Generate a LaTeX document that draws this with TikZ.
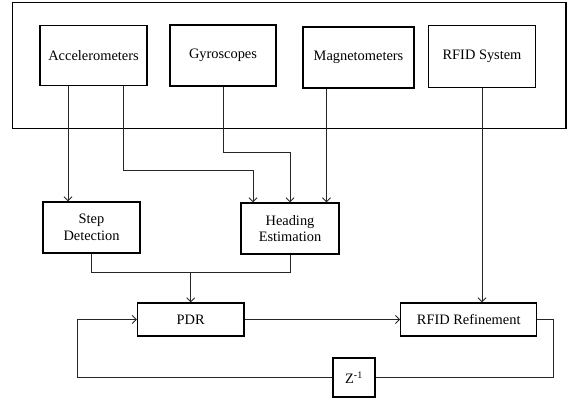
\documentclass[tikz,border=0pt]{standalone}
\usepackage{fontspec}
\setmainfont{Liberation Serif}
\usetikzlibrary{arrows.meta}
\begin{document}
\begin{tikzpicture}[x=1pt,y=-1pt,
  box/.style={draw,line width=1.3pt,inner sep=0pt,align=center,font=\fontsize{14.4}{16.5}\selectfont},
  conn/.style={line width=0.8pt,draw=black!85},
  arr/.style={conn,-{Straight Barb[length=4pt,width=8pt,line width=0.9pt]}}]
\useasboundingbox (0,0) rectangle (569,400);
% outer frame
\node[draw,line width=1.5pt,minimum width=553.5pt,minimum height=126pt,inner sep=0pt] (frame) at (289.25,65.5) {};
% sensor boxes
\node[box,minimum width=107pt,minimum height=60pt] (acc) at (93.5,55.8) {Accelerometers};
\node[box,minimum width=106pt,minimum height=61pt] (gyro) at (223,55.5) {Gyroscopes};
\node[box,minimum width=111pt,minimum height=61pt] (mag) at (358.5,57.5) {Magnetometers};
\node[box,minimum width=107pt,minimum height=62pt] (rfids) at (482,56.5) {RFID System};
% processing boxes
\node[box,minimum width=97pt,minimum height=51pt] (step) at (91.5,227.5) {Step\\Detection};
\node[box,minimum width=98pt,minimum height=51pt] (head) at (290,228.5) {Heading\\Estimation};
\node[box,minimum width=106.5pt,minimum height=33pt] (pdr) at (190.7,319.5) {PDR};
\node[box,minimum width=136pt,minimum height=33pt] (rfidr) at (468.7,319.5) {RFID Refinement};
\node[box,minimum width=42pt,minimum height=39pt] (z) at (354,377.5) {Z\textsuperscript{-1}};
% helper coordinates
\coordinate (xa1) at (68,0);
\coordinate (xa2) at (123,0);
\coordinate (xh1) at (253,0);
\coordinate (xm) at (326.5,0);
\coordinate (j) at (190.7,272);
% connectors
\draw[arr] (acc.south -| xa1) -- (step.north -| xa1);
\draw[arr] (acc.south -| xa2) |- (253,170) -- (head.north -| xh1);
\draw[arr] (gyro.south) |- (290,152) -- (head.north);
\draw[arr] (mag.south -| xm) -- (head.north -| xm);
\draw[arr] (rfids.south) -- (rfidr.north -| rfids.south);
\draw[conn] (step.south) |- (290,272) -- (head.south);
\draw[arr] (j) -- (pdr.north);
\draw[arr] (pdr.east) -- (rfidr.west);
\draw[conn] (rfidr.east) -| (553,377.5) -- (z.east);
\draw[arr] (z.west) -| (77.5,319.5) -- (pdr.west);
\end{tikzpicture}
\end{document}
